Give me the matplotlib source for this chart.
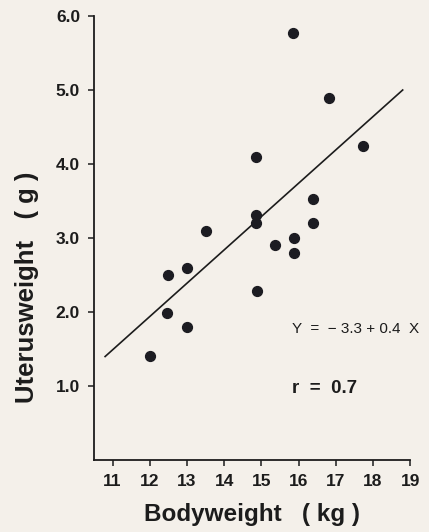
import matplotlib
matplotlib.use("Agg")
import matplotlib.pyplot as plt

plt.rcParams["font.family"] = ["Liberation Sans", "DejaVu Sans"]

# data
body_kg = [12.0, 12.47, 12.5, 13.0, 13.0, 13.5, 15.85, 16.82, 17.73, 14.86,
           16.39, 14.86, 14.86, 16.39, 15.37, 15.88, 15.88, 14.89]
uterus_g = [1.41, 1.99, 2.5, 2.6, 1.8, 3.1, 5.77, 4.89, 4.24, 4.09,
            3.53, 3.31, 3.2, 3.2, 2.9, 3.0, 2.8, 2.28]
fit_x = [10.8, 18.8]
fit_y = [1.4, 5.0]
x_ticks = [11, 12, 13, 14, 15, 16, 17, 18, 19]
y_ticks = [1.0, 2.0, 3.0, 4.0, 5.0, 6.0]

bg = "#f4f0ea"
ink = "#1c1c1c"
fig = plt.figure(figsize=(4.29, 5.32), dpi=100, facecolor=bg)
ax = fig.add_axes([0.219, 0.135, 0.737, 0.835], facecolor=bg)

ax.scatter(body_kg, uterus_g, s=50, color="#1c1c22", zorder=3)
ax.plot(fit_x, fit_y, color=ink, lw=1.2)

ax.set_xlim(10.5, 19.0)
ax.set_ylim(0, 6.0)
ax.set_xticks(x_ticks)
ax.set_yticks(y_ticks)
ax.set_yticklabels([f"{v:.1f}" for v in y_ticks])
for s in ("top", "right"):
    ax.spines[s].set_visible(False)
for s in ("left", "bottom"):
    ax.spines[s].set_linewidth(1.3)
    ax.spines[s].set_color(ink)
ax.tick_params(direction="out", length=4, width=1.1, labelsize=12.5, pad=6,
               colors=ink)
for lab in ax.get_xticklabels() + ax.get_yticklabels():
    lab.set_fontweight("semibold")

ax.text(15.82, 1.77, "Y  =  − 3.3 + 0.4  X", fontsize=11, va="center",
        ha="left", color=ink)
ax.text(15.82, 0.97, "r  =  0.7", fontsize=13.5, va="center", ha="left",
        fontweight="bold", color=ink)

ax.set_xlabel("Bodyweight   ( kg )", fontsize=17.5, fontweight="bold",
              labelpad=10, color=ink)
ax.set_ylabel("Uterusweight   ( g )", fontsize=18.5, fontweight="bold",
              color=ink)
# the y label sits lower than the axis centre in the original
ax.yaxis.set_label_coords(-0.175, 0.39)

fig.savefig("out.png", dpi=100, facecolor=bg)
